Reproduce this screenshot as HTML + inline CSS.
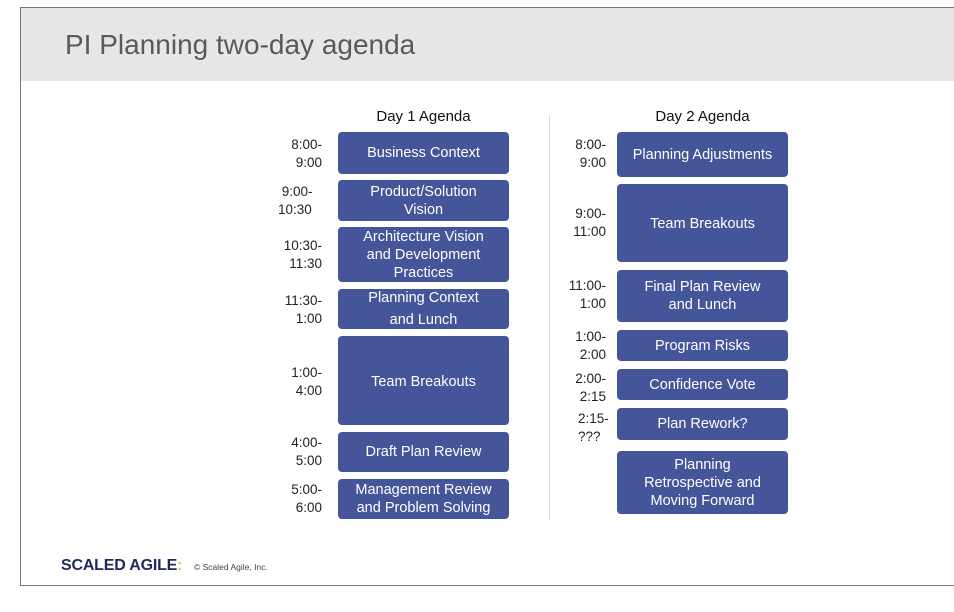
<!DOCTYPE html>
<html><head><meta charset="utf-8"><style>
body{margin:0;width:954px;height:612px;background:#fff;position:relative;overflow:hidden;font-family:"Liberation Sans",Arial,sans-serif}
.frame{position:absolute;left:20px;top:7px;width:940px;height:577px;border:1px solid #777;border-right:none}
.hdr{position:absolute;left:21px;top:8px;width:933px;height:73px;background:#e6e7e9}
.title{position:absolute;left:65px;top:29px;font-size:28px;color:#5a5a5a}
.dh{position:absolute;font-size:15px;color:#111;width:171px;text-align:center}
.box{position:absolute;background:#44559a;border-radius:4px;color:#fff;font-size:14.5px;display:flex;align-items:center;justify-content:center;text-align:center;line-height:18px}
.t{position:absolute;font-size:13.5px;color:#222;text-align:right;line-height:18px;width:60px}
.div{position:absolute;left:549px;top:115px;width:1px;height:405px;background:#ddd}
.logo{position:absolute;left:61px;top:557px;font-size:16px;font-weight:bold;color:#1d2a5c;letter-spacing:-0.2px}
.copy{position:absolute;left:194px;top:562px;font-size:8.5px;color:#444}
</style></head><body>
<div class="hdr"></div>
<div class="frame"></div>
<div class="title">PI Planning two-day agenda</div>
<div class="dh" style="left:338px;top:108px">Day 1 Agenda</div>
<div class="dh" style="left:617px;top:108px">Day 2 Agenda</div>
<div class="div"></div>

<div class="t" style="left:262px;top:136px">8:00-<br>9:00</div>
<div class="box" style="left:338px;top:132px;width:171px;height:42px">Business Context</div>
<div class="t" style="left:262px;top:183px;text-align:left;padding-left:16px">&nbsp;9:00-<br>10:30</div>
<div class="box" style="left:338px;top:180px;width:171px;height:41px">Product/Solution<br>Vision</div>
<div class="t" style="left:262px;top:237px">10:30-<br>11:30</div>
<div class="box" style="left:338px;top:227px;width:171px;height:55px">Architecture Vision<br>and Development<br>Practices</div>
<div class="t" style="left:262px;top:292px">11:30-<br>1:00</div>
<div class="box" style="left:338px;top:289px;width:171px;height:40px;line-height:22px">Planning Context<br>and Lunch</div>
<div class="t" style="left:262px;top:364px">1:00-<br>4:00</div>
<div class="box" style="left:338px;top:336px;width:171px;height:89px;align-items:flex-start"><span style="margin-top:37px">Team Breakouts</span></div>
<div class="t" style="left:262px;top:434px">4:00-<br>5:00</div>
<div class="box" style="left:338px;top:432px;width:171px;height:40px">Draft Plan Review</div>
<div class="t" style="left:262px;top:481px">5:00-<br>6:00</div>
<div class="box" style="left:338px;top:479px;width:171px;height:40px">Management Review<br>and Problem Solving</div>

<div class="t" style="left:546px;top:136px">8:00-<br>9:00</div>
<div class="box" style="left:617px;top:132px;width:171px;height:45px">Planning Adjustments</div>
<div class="t" style="left:546px;top:205px">9:00-<br>11:00</div>
<div class="box" style="left:617px;top:184px;width:171px;height:78px;align-items:flex-start"><span style="margin-top:31px">Team Breakouts</span></div>
<div class="t" style="left:546px;top:277px">11:00-<br>1:00</div>
<div class="box" style="left:617px;top:270px;width:171px;height:52px">Final Plan Review<br>and Lunch</div>
<div class="t" style="left:546px;top:328px">1:00-<br>2:00</div>
<div class="box" style="left:617px;top:330px;width:171px;height:31px">Program Risks</div>
<div class="t" style="left:546px;top:370px">2:00-<br>2:15</div>
<div class="box" style="left:617px;top:369px;width:171px;height:31px">Confidence Vote</div>
<div class="t" style="left:546px;top:410px;text-align:left;padding-left:32px">2:15-<br>???</div>
<div class="box" style="left:617px;top:408px;width:171px;height:32px">Plan Rework?</div>
<div class="box" style="left:617px;top:451px;width:171px;height:63px">Planning<br>Retrospective and<br>Moving Forward</div>

<div class="logo">SCALED AGILE<span style="color:#e8c440">:</span></div>
<div class="copy">© Scaled Agile, Inc.</div>
</body></html>
